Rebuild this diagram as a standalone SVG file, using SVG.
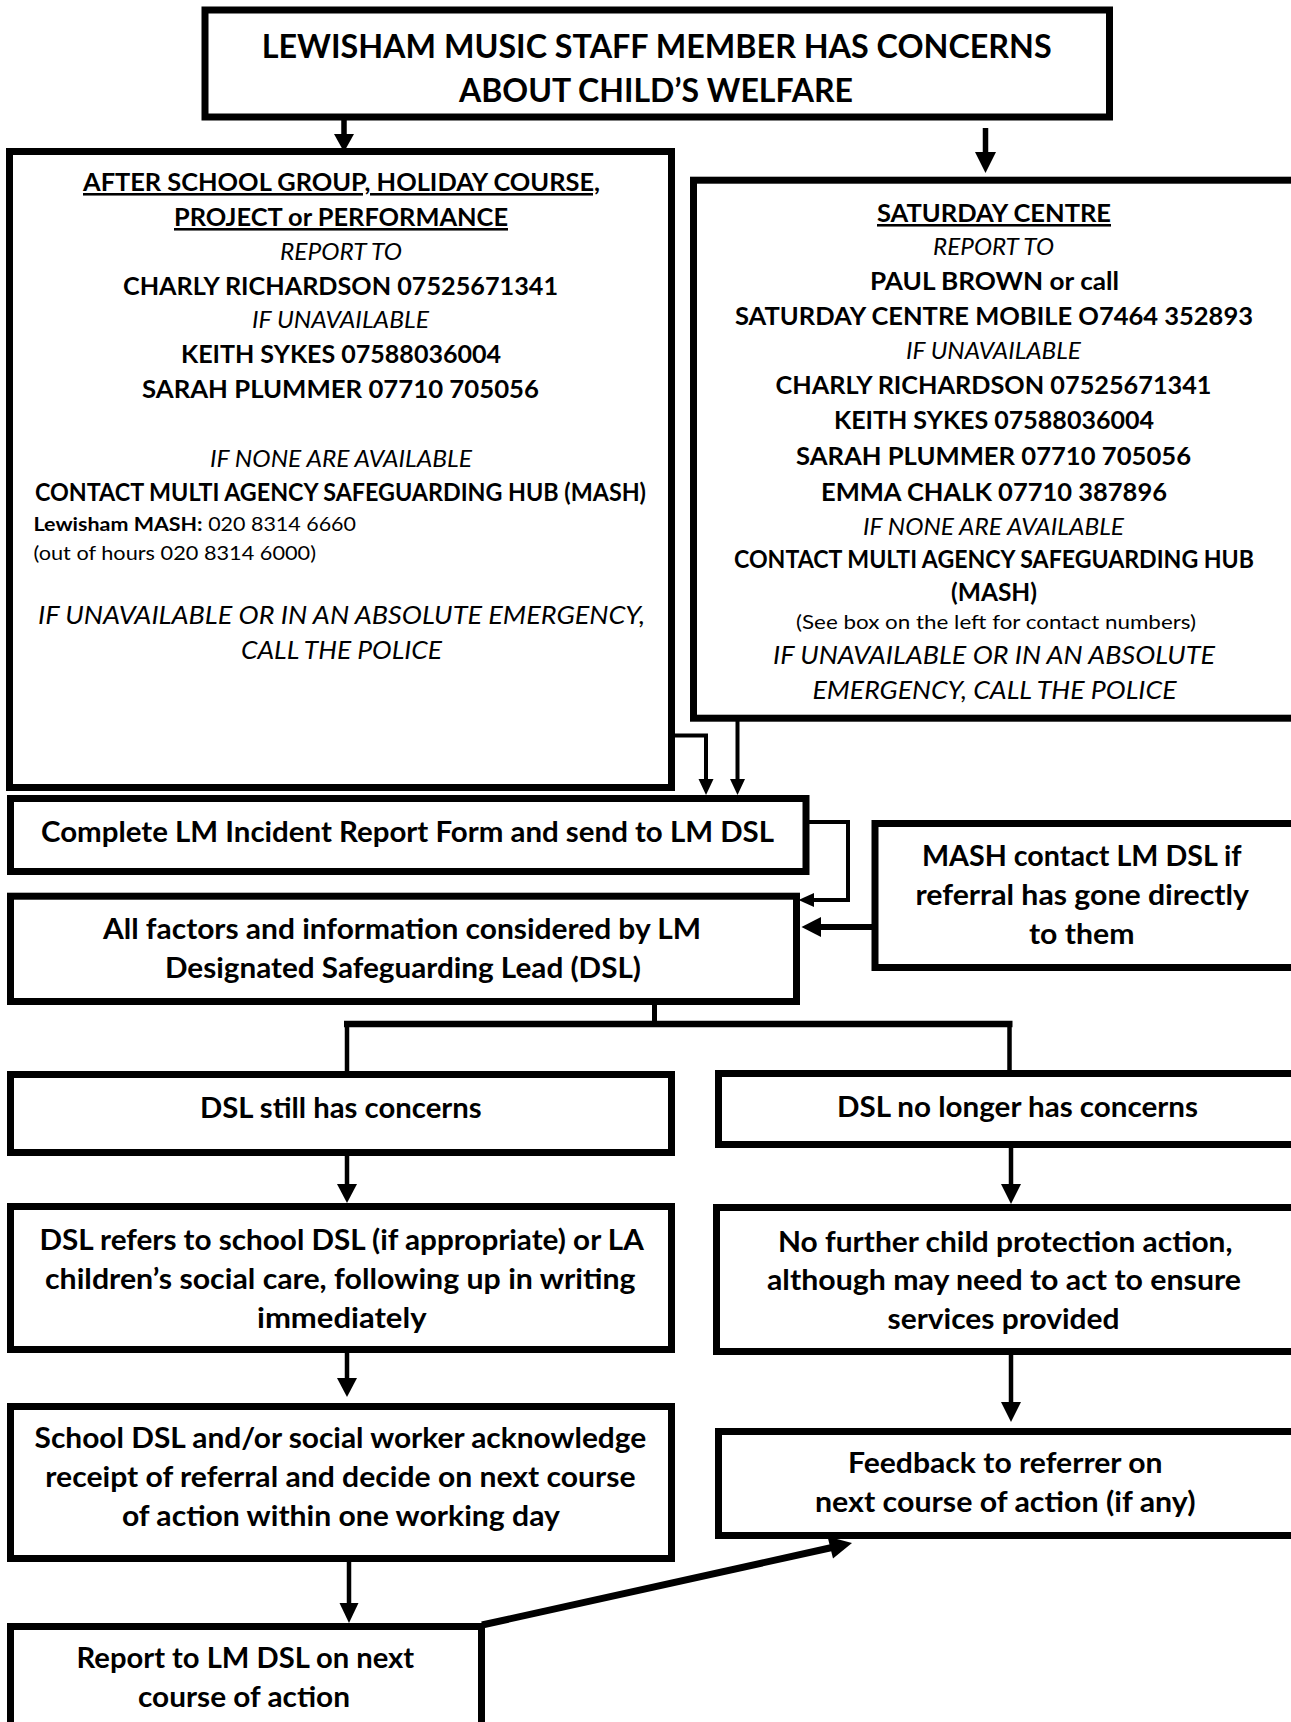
<svg xmlns="http://www.w3.org/2000/svg" width="1291" height="1722" viewBox="0 0 1291 1722">
<defs>
<style>
.box{fill:#fff;stroke:#000;stroke-width:7}
.t{font-family:Lato,"Liberation Sans",sans-serif;fill:#000}
.b{font-weight:700}
.i{font-style:italic;font-weight:400}
.r{font-weight:400}
.u{text-decoration:underline}
.h1{font-size:32px}
.m{font-size:25.6px}
.mi{font-size:23.5px}
.bi{font-size:26px}
.s{font-size:19px}
.n{font-size:28.5px}
.ln{fill:none;stroke:#000;stroke-linejoin:miter}
.ah{fill:#000;stroke:none}
</style>
</defs>
<rect x="0" y="0" width="1291" height="1722" fill="#fff"/>

<g id="connectors">
<line class="ln" x1="344" y1="120" x2="344" y2="135" stroke-width="5.5"/>
<polygon class="ah" points="334,134 354,134 344,152"/>
<line class="ln" x1="985.5" y1="128" x2="985.5" y2="153" stroke-width="5.5"/>
<polygon class="ah" points="975,152 996,152 985.5,173"/>
<path class="ln" d="M675,735.5 H706 V781" stroke-width="4"/>
<polygon class="ah" points="698.5,779 713.5,779 706,795"/>
<line class="ln" x1="737.5" y1="686" x2="737.5" y2="781" stroke-width="4"/>
<polygon class="ah" points="730,779 745,779 737.5,795"/>
<path class="ln" d="M809,822 H848 V900 H812" stroke-width="4"/>
<polygon class="ah" points="814,893 814,907 798.5,900"/>
<line class="ln" x1="873" y1="927" x2="818" y2="927" stroke-width="6"/>
<polygon class="ah" points="821,917 821,937 801.5,927"/>
<line class="ln" x1="654.5" y1="1004" x2="654.5" y2="1024" stroke-width="5"/>
<line class="ln" x1="344" y1="1024" x2="1012.5" y2="1024" stroke-width="6.5"/>
<line class="ln" x1="347" y1="1024" x2="347" y2="1071" stroke-width="4.5"/>
<line class="ln" x1="1009.5" y1="1024" x2="1009.5" y2="1070" stroke-width="4.5"/>
<line class="ln" x1="347" y1="1156" x2="347" y2="1186" stroke-width="4.5"/>
<polygon class="ah" points="337,1184 357,1184 347,1203"/>
<line class="ln" x1="1011" y1="1148" x2="1011" y2="1186" stroke-width="4.5"/>
<polygon class="ah" points="1001,1184 1021,1184 1011,1204"/>
<line class="ln" x1="347" y1="1353" x2="347" y2="1380" stroke-width="4.5"/>
<polygon class="ah" points="337,1378 357,1378 347,1397"/>
<line class="ln" x1="1011" y1="1355" x2="1011" y2="1404" stroke-width="4.5"/>
<polygon class="ah" points="1001,1402 1021,1402 1011,1422"/>
<line class="ln" x1="349" y1="1562" x2="349" y2="1605" stroke-width="4.5"/>
<polygon class="ah" points="339.5,1603 358.5,1603 349,1623"/>
<line class="ln" x1="482" y1="1625" x2="832" y2="1547.5" stroke-width="7"/>
<polygon class="ah" points="833,1558.5 827.5,1536.5 852,1543"/>
</g>

<g id="n-top">
<rect class="box" x="205" y="10" width="904.5" height="107"/>
<text class="t b h1" x="261.7" y="58.3" textLength="790" lengthAdjust="spacingAndGlyphs">LEWISHAM MUSIC STAFF MEMBER HAS CONCERNS</text>
<text class="t b h1" x="459" y="101.7" textLength="394" lengthAdjust="spacingAndGlyphs">ABOUT CHILD’S WELFARE</text>
</g>

<g id="n-afterschool">
<rect class="box" x="9.5" y="151.5" width="662" height="636"/>
<text class="t b m u" x="83" y="191" textLength="517" lengthAdjust="spacingAndGlyphs">AFTER SCHOOL GROUP, HOLIDAY COURSE,</text>
<text class="t b m u" x="174" y="226" textLength="334" lengthAdjust="spacingAndGlyphs">PROJECT or PERFORMANCE</text>
<text class="t i mi" x="280" y="260" textLength="122" lengthAdjust="spacingAndGlyphs">REPORT TO</text>
<text class="t b m" x="123" y="295" textLength="435" lengthAdjust="spacingAndGlyphs">CHARLY RICHARDSON 07525671341</text>
<text class="t i mi" x="252" y="328" textLength="177" lengthAdjust="spacingAndGlyphs">IF UNAVAILABLE</text>
<text class="t b m" x="181" y="363" textLength="320" lengthAdjust="spacingAndGlyphs">KEITH SYKES 07588036004</text>
<text class="t b m" x="142" y="398" textLength="397" lengthAdjust="spacingAndGlyphs">SARAH PLUMMER 07710 705056</text>
<text class="t i mi" x="210" y="467" textLength="262" lengthAdjust="spacingAndGlyphs">IF NONE ARE AVAILABLE</text>
<text class="t b m" x="35" y="501" textLength="611" lengthAdjust="spacingAndGlyphs">CONTACT MULTI AGENCY SAFEGUARDING HUB (MASH)</text>
<text class="t s" x="33.5" y="531" textLength="322.5" lengthAdjust="spacingAndGlyphs"><tspan class="b">Lewisham MASH:</tspan><tspan class="r"> 020 8314 6660</tspan></text>
<text class="t r s" x="33.5" y="560" textLength="282.5" lengthAdjust="spacingAndGlyphs">(out of hours 020 8314 6000)</text>
<text class="t i bi" x="38" y="623.5" textLength="607" lengthAdjust="spacingAndGlyphs">IF UNAVAILABLE OR IN AN ABSOLUTE EMERGENCY,</text>
<text class="t i bi" x="241" y="658.5" textLength="201" lengthAdjust="spacingAndGlyphs">CALL THE POLICE</text>
</g>

<g id="n-saturday">
<rect class="box" x="693.5" y="180.2" width="640" height="538"/>
<text class="t b m u" x="877" y="222" textLength="234" lengthAdjust="spacingAndGlyphs">SATURDAY CENTRE</text>
<text class="t i mi" x="933" y="255" textLength="121" lengthAdjust="spacingAndGlyphs">REPORT TO</text>
<text class="t b m" x="870" y="289.5" textLength="249" lengthAdjust="spacingAndGlyphs">PAUL BROWN or call</text>
<text class="t b m" transform="scale(0.8,1)" x="918.75" y="325.5" textLength="647.5" lengthAdjust="spacingAndGlyphs">SATURDAY CENTRE MOBILE O7464 352893</text>
<text class="t i mi" x="906" y="358.6" textLength="175" lengthAdjust="spacingAndGlyphs">IF UNAVAILABLE</text>
<text class="t b m" x="775.5" y="393.6" textLength="436" lengthAdjust="spacingAndGlyphs">CHARLY RICHARDSON 07525671341</text>
<text class="t b m" x="834" y="429.3" textLength="320" lengthAdjust="spacingAndGlyphs">KEITH SYKES 07588036004</text>
<text class="t b m" x="796" y="465" textLength="395" lengthAdjust="spacingAndGlyphs">SARAH PLUMMER 07710 705056</text>
<text class="t b m" x="821" y="501" textLength="346" lengthAdjust="spacingAndGlyphs">EMMA CHALK 07710 387896</text>
<text class="t i mi" x="863" y="534.8" textLength="261" lengthAdjust="spacingAndGlyphs">IF NONE ARE AVAILABLE</text>
<text class="t b m" transform="scale(0.8,1)" x="917.5" y="567.6" textLength="650" lengthAdjust="spacingAndGlyphs">CONTACT MULTI AGENCY SAFEGUARDING HUB</text>
<text class="t b m" x="951" y="601" textLength="86" lengthAdjust="spacingAndGlyphs">(MASH)</text>
<text class="t r s" x="796" y="629" textLength="400" lengthAdjust="spacingAndGlyphs">(See box on the left for contact numbers)</text>
<text class="t i bi" x="773" y="664" textLength="442" lengthAdjust="spacingAndGlyphs">IF UNAVAILABLE OR IN AN ABSOLUTE</text>
<text class="t i bi" x="812.5" y="699" textLength="364" lengthAdjust="spacingAndGlyphs">EMERGENCY, CALL THE POLICE</text>
</g>

<g id="n-complete">
<rect class="box" x="10.5" y="798.5" width="795.5" height="73"/>
<text class="t b n" x="41" y="841.5" textLength="733" lengthAdjust="spacingAndGlyphs">Complete LM Incident Report Form and send to LM DSL</text>
</g>

<g id="n-mash">
<rect class="box" x="875" y="823.5" width="450" height="144"/>
<text class="t b n" x="922" y="865.5" textLength="319.5" lengthAdjust="spacingAndGlyphs">MASH contact LM DSL if</text>
<text class="t b n" x="915.5" y="904.5" textLength="333.5" lengthAdjust="spacingAndGlyphs">referral has gone directly</text>
<text class="t b n" x="1029" y="943.5" textLength="105.5" lengthAdjust="spacingAndGlyphs">to them</text>
</g>

<g id="n-allfactors">
<rect class="box" x="10.5" y="896.2" width="786" height="105.3"/>
<text class="t b n" x="103" y="939" textLength="598" lengthAdjust="spacingAndGlyphs">All factors and information considered by LM</text>
<text class="t b n" x="165" y="977.5" textLength="476" lengthAdjust="spacingAndGlyphs">Designated Safeguarding Lead (DSL)</text>
</g>

<g id="n-still">
<rect class="box" x="10.5" y="1074.5" width="661" height="78"/>
<text class="t b n" x="200" y="1117.7" textLength="281.6" lengthAdjust="spacingAndGlyphs">DSL still has concerns</text>
</g>

<g id="n-nolonger">
<rect class="box" x="718.5" y="1073.5" width="620" height="71"/>
<text class="t b n" x="837" y="1117.3" textLength="361" lengthAdjust="spacingAndGlyphs">DSL no longer has concerns</text>
</g>

<g id="n-refers">
<rect class="box" x="10.5" y="1206.5" width="661" height="143"/>
<text class="t b n" x="39.5" y="1249.5" textLength="604.3" lengthAdjust="spacingAndGlyphs">DSL refers to school DSL (if appropriate) or LA</text>
<text class="t b n" x="45" y="1288.5" textLength="590.5" lengthAdjust="spacingAndGlyphs">children’s social care, following up in writing</text>
<text class="t b n" x="257" y="1327.5" textLength="169.5" lengthAdjust="spacingAndGlyphs">immediately</text>
</g>

<g id="n-nofurther">
<rect class="box" x="716.5" y="1207.5" width="620" height="144"/>
<text class="t b n" x="778" y="1251.7" textLength="454.5" lengthAdjust="spacingAndGlyphs">No further child protection action,</text>
<text class="t b n" x="767" y="1290" textLength="474" lengthAdjust="spacingAndGlyphs">although may need to act to ensure</text>
<text class="t b n" x="887.5" y="1329.3" textLength="232" lengthAdjust="spacingAndGlyphs">services provided</text>
</g>

<g id="n-school">
<rect class="box" x="10.5" y="1406.5" width="661" height="152"/>
<text class="t b n" x="34.6" y="1448.3" textLength="611.7" lengthAdjust="spacingAndGlyphs">School DSL and/or social worker acknowledge</text>
<text class="t b n" x="45.3" y="1486.7" textLength="590.3" lengthAdjust="spacingAndGlyphs">receipt of referral and decide on next course</text>
<text class="t b n" x="121.9" y="1525.7" textLength="438" lengthAdjust="spacingAndGlyphs">of action within one working day</text>
</g>

<g id="n-feedback">
<rect class="box" x="718.5" y="1431.5" width="620" height="104"/>
<text class="t b n" x="848" y="1473" textLength="314.5" lengthAdjust="spacingAndGlyphs">Feedback to referrer on</text>
<text class="t b n" x="815" y="1512" textLength="380.5" lengthAdjust="spacingAndGlyphs">next course of action (if any)</text>
</g>

<g id="n-report">
<rect class="box" x="10.5" y="1626.5" width="471" height="200"/>
<text class="t b n" x="76.6" y="1668" textLength="337.6" lengthAdjust="spacingAndGlyphs">Report to LM DSL on next</text>
<text class="t b n" x="138" y="1707" textLength="212" lengthAdjust="spacingAndGlyphs">course of action</text>
</g>
</svg>
